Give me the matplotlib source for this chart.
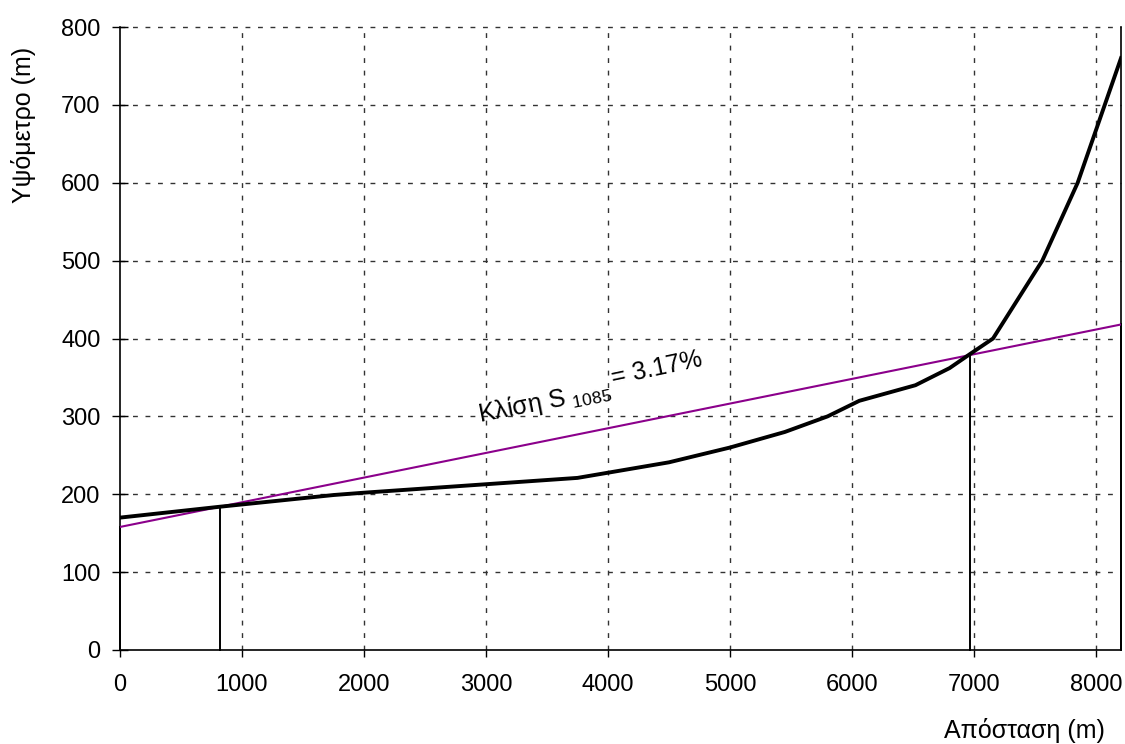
import matplotlib
matplotlib.use("Agg")
import matplotlib.pyplot as plt

plt.rcParams['font.family'] = ['Liberation Sans', 'DejaVu Sans']
plt.rcParams['mathtext.fontset'] = 'custom'
plt.rcParams['mathtext.rm'] = 'Liberation Sans'
plt.rcParams['mathtext.it'] = 'Liberation Sans'

# Longitudinal profile (distance m, elevation m)
distance = [0, 820, 1750, 2000, 3750, 4500, 5000, 5450, 5800, 6060, 6520, 6800, 6967, 7156, 7560, 7850, 8205]
elevation = [170, 184, 199, 202, 221, 241, 260, 280, 300, 320, 340, 362, 380, 400, 500, 600, 760]

# S1085 slope line
slope_x = [0, 8205]
slope_y = [158, 418]

# vertical markers (10% and 85% of length, and ends)
marker_x = [0, 820, 6967, 8205]
marker_top = [158, 184, 380, 418]

xticks = [0, 1000, 2000, 3000, 4000, 5000, 6000, 7000, 8000]
yticks = [0, 100, 200, 300, 400, 500, 600, 700, 800]

FS = 17

fig = plt.figure(figsize=(11.25, 7.44), dpi=100)
ax = fig.add_axes([120/1125, 1-650/744, 1001/1125, 623/744])

ax.set_xlim(0, 8205)
ax.set_ylim(0, 800)
ax.set_xticks(xticks)
ax.set_yticks(yticks)

for xv in xticks[1:]:
    ax.axvline(xv, color='#333333', lw=1.0, dashes=(3.5, 5.5), zorder=1)
for yv in yticks[1:]:
    ax.axhline(yv, color='#333333', lw=1.0, dashes=(3.5, 5.5), zorder=1, clip_on=False)

for mx, mt in zip(marker_x, marker_top):
    ax.plot([mx, mx], [0, mt], color='black', lw=1.4, zorder=2, clip_on=False)

ax.plot(slope_x, slope_y, color='#8B008B', lw=1.5, zorder=3)
ax.plot(distance, elevation, color='black', lw=2.8, zorder=4, solid_joinstyle='miter')

ax.text(2950, 293, r"Κλίση S $_{1085}$", rotation=11, fontsize=18,
        ha='left', va='baseline', rotation_mode='anchor', zorder=5)
ax.text(4040, 340, "= 3.17%", rotation=12, fontsize=18,
        ha='left', va='baseline', rotation_mode='anchor', zorder=5)

ax.spines['top'].set_visible(False)
for s in ['left', 'bottom', 'right']:
    ax.spines[s].set_linewidth(1.2)
    ax.spines[s].set_color('black')

ax.tick_params(axis='x', direction='out', length=5, width=1, labelsize=FS, pad=12)
ax.tick_params(axis='y', direction='inout', length=12, width=1, labelsize=FS, pad=8)

ax.set_xlabel("Απόσταση (m)", fontsize=18)
ax.xaxis.set_label_coords(0.984, -0.130)
ax.xaxis.label.set_ha('right')
ax.xaxis.label.set_va('center')
ax.set_ylabel("Υψόμετρο (m)", fontsize=18)
ax.yaxis.set_label_coords(-0.096, 0.842)
ax.yaxis.label.set_va('center')

fig.savefig("out.png", dpi=100)
